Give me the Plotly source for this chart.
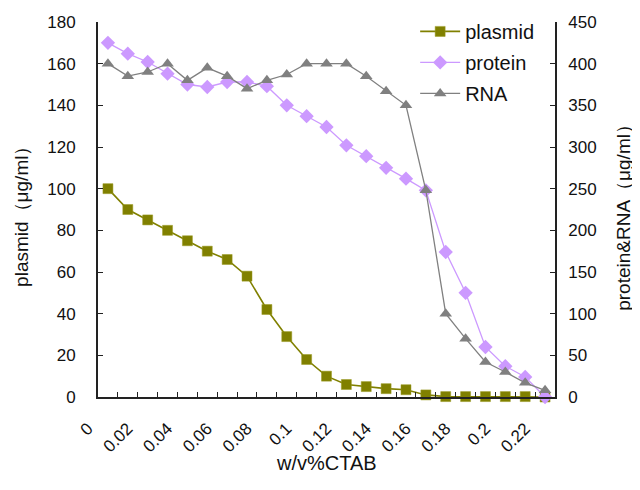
import plotly.graph_objects as go

ctab = [0, 0.01, 0.02, 0.03, 0.04, 0.05, 0.06, 0.07, 0.08, 0.09, 0.10, 0.11,
        0.12, 0.13, 0.14, 0.15, 0.16, 0.17, 0.18, 0.19, 0.20, 0.21, 0.22]
plasmid = [100, 90, 85, 80, 75, 70, 66, 58, 42, 29, 18, 10,
           6, 5, 4, 3.5, 1, 0.2, 0.2, 0.2, 0.2, 0.2, 0]
protein = [425, 412, 402, 388, 375, 372, 378, 378, 373, 350, 337, 324,
           302, 289, 275, 262, 248, 174, 125, 60, 37, 24, 0]
rna = [400, 385, 390, 400, 380, 395, 385, 370, 380, 387, 400, 400,
       400, 385, 367, 350, 248, 100, 70, 42, 30, 17, 8]
x_tick_vals = [0, 0.02, 0.04, 0.06, 0.08, 0.10, 0.12, 0.14, 0.16, 0.18, 0.20, 0.22]
x_tick_text = ["0", "0.02", "0.04", "0.06", "0.08", "0.1", "0.12", "0.14",
               "0.16", "0.18", "0.2", "0.22"]

half = 0.005
boundaries = [c - half for c in ctab] + [ctab[-1] + half]

FONT = "Liberation Sans, Arial, sans-serif"
AX = "#222222"

fig = go.Figure()
fig.add_trace(go.Scatter(
    x=ctab, y=plasmid, name="plasmid", mode="lines+markers",
    line=dict(color="#808000", width=1.6),
    marker=dict(symbol="square", size=10, color="#808000",
                line=dict(color="#9a9a20", width=0.5)),
    cliponaxis=False, legendgroup="a"))
fig.add_trace(go.Scatter(
    x=ctab, y=protein, name="protein", mode="lines+markers", yaxis="y2",
    line=dict(color="#CC99FF", width=1.3),
    marker=dict(symbol="diamond", size=11, color="#CC99FF"),
    cliponaxis=False, legendgroup="b"))
fig.add_trace(go.Scatter(
    x=ctab, y=rna, name="RNA", mode="lines+markers", yaxis="y2",
    line=dict(color="#808080", width=1.3),
    marker=dict(symbol="triangle-up", size=11, color="#808080"),
    cliponaxis=False, legendgroup="c"))

fig.update_layout(
    width=632, height=482,
    margin=dict(l=90, r=85, t=14, b=93, autoexpand=False),
    paper_bgcolor="white", plot_bgcolor="white",
    font=dict(family=FONT, size=17, color="#111111"),
    showlegend=True,
    legend=dict(x=0.694, y=1.027, xanchor="left", yanchor="top",
                bgcolor="white", borderwidth=0, traceorder="grouped",
                tracegroupgap=2, itemwidth=40,
                font=dict(family=FONT, size=20, color="#111111")),
    xaxis=dict(range=[ctab[0] - half, ctab[-1] + half],
               tickmode="array", tickvals=x_tick_vals, ticktext=x_tick_text,
               tickangle=-45, ticks="inside", ticklen=0,
               tickcolor="rgba(0,0,0,0)",
               ticklabelshift=-20, ticklabelstandoff=13,
               minor=dict(tickmode="array", tickvals=boundaries, ticks="inside",
                          ticklen=5, tickcolor=AX, tickwidth=1.3),
               showline=True, linecolor=AX, linewidth=1.8,
               showgrid=False, zeroline=False, automargin=False,
               tickfont=dict(size=17)),
    yaxis=dict(range=[0, 180], dtick=20, ticks="inside", ticklen=5,
               tickcolor=AX, tickwidth=1.3,
               showline=True, linecolor=AX, linewidth=1.8, automargin=False,
               showgrid=False, zeroline=False, ticklabelstandoff=17,
               tickfont=dict(size=17)),
    yaxis2=dict(range=[0, 450], dtick=50, ticks="inside", ticklen=5,
                tickcolor=AX, tickwidth=1.3, overlaying="y", side="right",
                showline=True, linecolor=AX, linewidth=1.8, automargin=False,
                showgrid=False, zeroline=False, ticklabelstandoff=8,
                tickfont=dict(size=17)),
    annotations=[
        dict(text="w/v%CTAB", xref="paper", yref="paper", x=0.5, y=-0.175,
             xanchor="center", yanchor="middle", showarrow=False,
             font=dict(size=20)),
        dict(text="plasmid（μg/ml）", xref="paper", yref="paper",
             x=-0.166, y=0.494, xanchor="center", yanchor="middle",
             textangle=-90, showarrow=False, font=dict(size=19)),
        dict(text="protein&RNA（μg/ml）", xref="paper", yref="paper",
             x=1.15, y=0.49, xanchor="center", yanchor="middle",
             textangle=-90, showarrow=False, font=dict(size=19)),
    ],
)

fig.write_html("out.html")
